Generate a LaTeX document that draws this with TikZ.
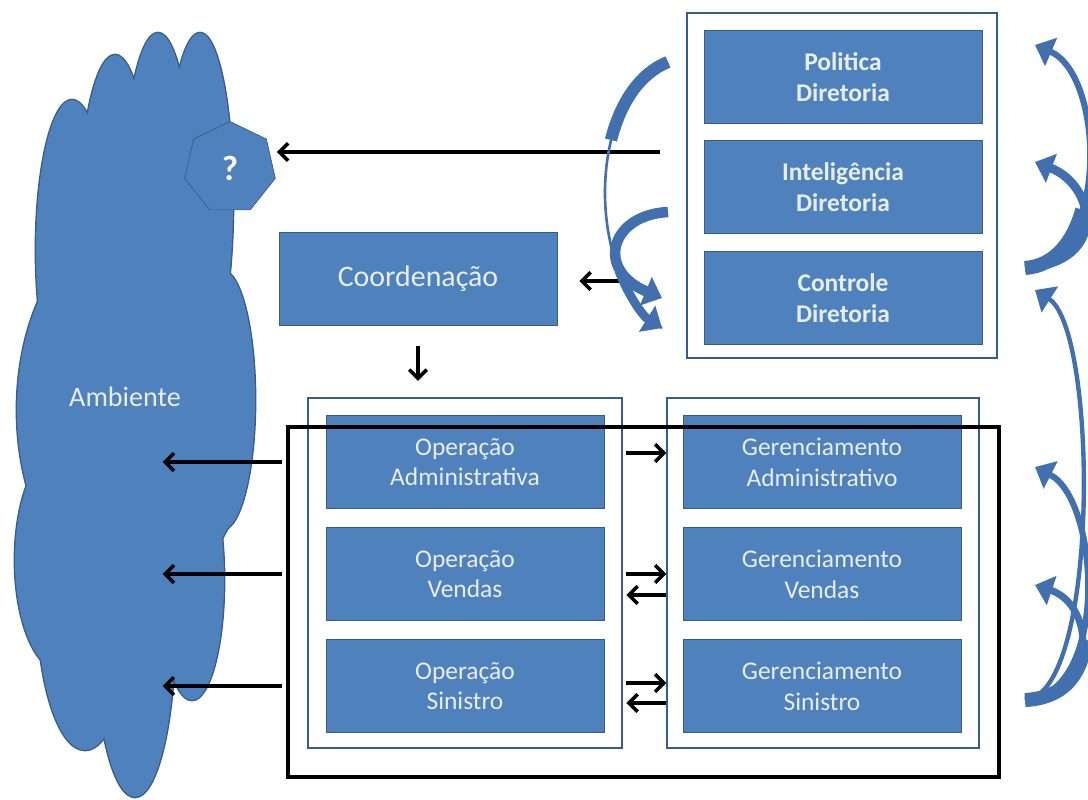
\documentclass[tikz,border=0pt]{standalone}
\usepackage{fontspec}
\setmainfont{Carlito}
\usetikzlibrary{arrows.meta,shapes.geometric}

\definecolor{boxblue}{RGB}{79,129,189}
\definecolor{boxline}{RGB}{56,93,138}
\definecolor{boxtext}{RGB}{232,238,247}
\definecolor{arcblue}{RGB}{66,112,174}

\tikzset{
  caixa/.style={draw=boxline, fill=boxblue, text=boxtext, minimum width=5.56cm,
    minimum height=1.86cm, inner sep=0pt, align=center,
    font=\fontsize{14.5}{17.5}\selectfont},
  caixadir/.style={caixa, font=\bfseries\fontsize{14.5}{17.5}\selectfont},
  moldura/.style={draw=boxline, fill=white, line width=0.9pt, inner sep=0pt},
  seta/.style={line width=2pt, -{Straight Barb[length=5pt,width=10pt]}},
  curva/.style={draw=arcblue, line cap=butt},
  ponta/.style={-{Triangle[length=10pt,width=17pt]}}
}

\begin{document}
\begin{tikzpicture}[x=0.02cm, y=-0.02cm]
    \useasboundingbox (0,0) rectangle (1088,799);
    \clip (0,0) rectangle (1088,799);

    % ambiente: union of lobes, outline first then fill
    \foreach \cx/\cy/\rx/\ry in {72/250/0.72/3, 115/225/0.72/3.4, 158/200/0.68/3.34,
        200/200/0.66/3.34, 135/410/2.36/3.8, 222/400/0.66/2.6, 192/580/0.64/2.4,
        135/630/0.8/3.34, 85/600/0.96/3, 60/560/0.9/2.2}
      \draw[boxline, line width=1.6pt] (\cx,\cy) ellipse [x radius=\rx cm, y radius=\ry cm];
    \foreach \cx/\cy/\rx/\ry in {72/250/0.72/3, 115/225/0.72/3.4, 158/200/0.68/3.34,
        200/200/0.66/3.34, 135/410/2.36/3.8, 222/400/0.66/2.6, 192/580/0.64/2.4,
        135/630/0.8/3.34, 85/600/0.96/3, 60/560/0.9/2.2}
      \fill[boxblue] (\cx,\cy) ellipse [x radius=\rx cm, y radius=\ry cm];
    \node (amb) at (125,397) [text=boxtext, font=\fontsize{16}{19}\selectfont] {Ambiente};
    \node (q) at (230,168) [regular polygon, regular polygon sides=7, minimum size=1.86cm,
      draw=boxline, fill=boxblue, text=white, inner sep=0pt,
      font=\bfseries\fontsize{20}{24}\selectfont] {?};

    % diretoria
    \node (dir) at (842,185.5) [moldura, minimum width=6.2cm, minimum height=6.9cm] {};
    \node (pol) at (843,77) [caixadir] {Politica\\Diretoria};
    \node (intel) at (843,187) [caixadir] {Inteligência\\Diretoria};
    \node (ctrl) at (843,298) [caixadir] {Controle\\Diretoria};

    \node (coord) at (418,279) [caixa, font=\fontsize{17}{20}\selectfont] {Coordenação};

    % operacao / gerenciamento
    \node (opg) at (465,573) [moldura, minimum width=6.28cm, minimum height=7cm] {};
    \node (gerg) at (823,573) [moldura, minimum width=6.24cm, minimum height=7cm] {};
    \node (opadm) at (465,462) [caixa] {Operação\\Administrativa};
    \node (opvend) at (465,574) [caixa] {Operação\\Vendas};
    \node (opsin) at (465,686) [caixa] {Operação\\Sinistro};
    \node (geradm) at (822,462) [caixa] {Gerenciamento\\Administrativo};
    \node (gervend) at (822,574) [caixa] {Gerenciamento\\Vendas};
    \node (gersin) at (822,686) [caixa] {Gerenciamento\\Sinistro};

    \draw[black, line width=2.3pt] (288,427) rectangle (999,777);

    % black arrows
    \coordinate (qa) at (660,152);
    \draw[seta] (qa) -- ([xshift=2pt]qa -| q.east);
    \coordinate (ca) at (620,281);
    \draw[seta] (ca) -- ([xshift=0.44cm]ca -| coord.east);
    \draw[seta] ([yshift=-0.4cm]coord.south) -- ([yshift=-1.1cm]coord.south);
    \foreach \n in {opadm,opvend,opsin}
      \draw[seta] ([xshift=-0.88cm]\n.west) -- ([xshift=-3.26cm]\n.west);
    \draw[seta] ([xshift=0.44cm,yshift=0.18cm]opadm.east) -- ([xshift=1.24cm,yshift=0.18cm]opadm.east);
    \draw[seta] ([xshift=0.44cm]opvend.east) -- ([xshift=1.24cm]opvend.east);
    \draw[seta] ([xshift=1.24cm,yshift=-0.42cm]opvend.east) -- ([xshift=0.44cm,yshift=-0.42cm]opvend.east);
    \draw[seta] ([xshift=0.44cm,yshift=0.06cm]opsin.east) -- ([xshift=1.24cm,yshift=0.06cm]opsin.east);
    \draw[seta] ([xshift=1.24cm,yshift=-0.34cm]opsin.east) -- ([xshift=0.44cm,yshift=-0.34cm]opsin.east);

    % curved arrows, left of diretoria
    \draw[curva, line width=1.5pt] (668,62) .. controls (585,95) and (585,280) .. (662,328);
    \draw[curva, line width=7pt] (668,62) .. controls (639,73.5) and (620,104) .. (611,140);
    \draw[curva, ponta, line width=5pt] (618.8,270.8) .. controls (628.3,295.4) and (642.75,316) .. (662,328);
    \draw[curva, ponta, line width=6pt] (668,212) .. controls (610,215) and (595,270) .. (662,298);

    % curved arrows, right side
    \draw[curva, ponta, line width=3.5pt] (1025,268) .. controls (1110,262) and (1105,75) .. (1035,45);
    \draw[curva, line width=8pt] (1025,268) .. controls (1054.75,265.9) and (1073.5,241.6) .. (1082.25,209.6);
    \draw[curva, ponta, line width=5pt] (1025,268) .. controls (1110,262) and (1095,185) .. (1035,162);
    \draw[curva, ponta, line width=2.5pt] (1025,700) .. controls (1100,695) and (1098,330) .. (1035,290);
    \draw[curva, ponta, line width=3.5pt] (1025,700) .. controls (1110,695) and (1100,500) .. (1035,467);
    \draw[curva, ponta, line width=4pt] (1025,700) .. controls (1100,695) and (1095,605) .. (1035,585);
    \draw[curva, line width=8pt] (1025,700) .. controls (1060,698) and (1080,680) .. (1086,640);
\end{tikzpicture}
\end{document}
